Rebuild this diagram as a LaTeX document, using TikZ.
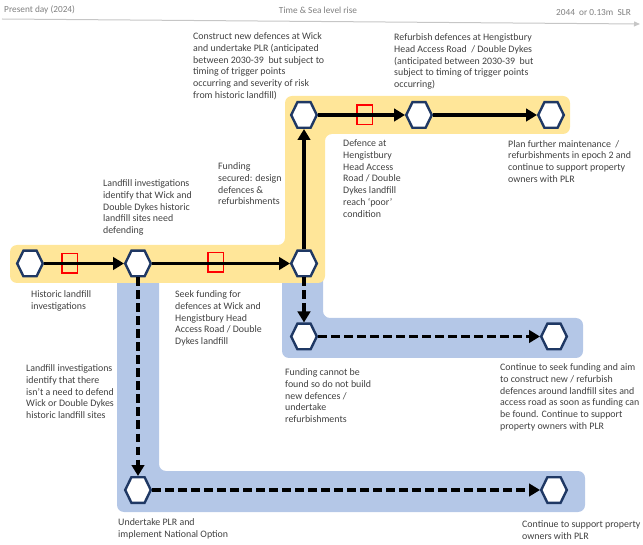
\documentclass[tikz,border=0pt]{standalone}
\usepackage{fontspec}
\setmainfont{Carlito}
\usetikzlibrary{arrows.meta}
\definecolor{bandyellow}{HTML}{FFE699}
\definecolor{bandblue}{HTML}{B4C7E7}
\definecolor{hexnavy}{HTML}{1F3864}
\definecolor{txtgray}{HTML}{404040}
\definecolor{tlgray}{HTML}{7F7F7F}
\begin{document}
\begin{tikzpicture}[x=1pt,y=-1pt,
  band/.style={rounded corners=7pt},
  hexnode/.style={minimum width=25.6pt, minimum height=25.6pt, inner sep=0pt, outer sep=1.2pt},
  hexline/.style={draw=hexnavy, line width=2.4pt, fill=white, line join=miter},
  flow/.style={line width=3.5pt, -{Triangle[length=11pt,width=12.5pt]}},
  flowdash/.style={flow, dash pattern=on 8.5pt off 4.5pt},
  redbox/.style={draw=red, line width=1.5pt, minimum width=15.5pt, minimum height=19.5pt, inner sep=0pt},
  lab/.style={anchor=north west, align=left, inner sep=0pt, text=txtgray, font=\fontsize{9.9}{11.8}\selectfont},
  tl/.style={inner sep=0pt, text=tlgray, font=\fontsize{9.3}{11}\selectfont}]
\useasboundingbox (0,0) rectangle (643,545);

% timeline
\coordinate (tl0) at (2,19);
\coordinate (tl1) at (640,24);
\draw[line width=1pt, draw=gray!45, -{Triangle[length=6pt,width=5pt]}] (tl0) -- (tl1);
\node[tl, anchor=west] (tlleft) at (4,10) {Present day (2024)};
\node[tl] (tlmid) at (318,10) {Time \& Sea level rise};
\node[tl, anchor=east] (tlright) at (631,13) {2044~ or 0.13m~ SLR};

% bands
\fill[bandblue] (117,276) -- (159,276) [band] -- (159,471) -- (585,471) -- (585,512) -- (117,512) -- cycle;
\fill[bandblue] (282,276) -- (323,276) [band] -- (323,318) -- (583,318) -- (583,358) -- (282,358) -- cycle;
\fill[bandyellow, band] (10,245) -- (285,245) -- (285,96) -- (570,96) -- (570,134) -- (325,134) -- (325,283) -- (10,283) -- cycle;

% hexagon nodes
\node[hexnode] (A) at (30,263.5) {};
\node[hexnode] (B) at (138,263.5) {};
\node[hexnode] (C) at (304,263.5) {};
\node[hexnode] (D) at (304,115) {};
\node[hexnode] (E) at (419,115) {};
\node[hexnode] (F) at (551,115) {};
\node[hexnode] (G) at (304,336.5) {};
\node[hexnode] (H) at (554,336.5) {};
\node[hexnode] (I) at (138,490) {};
\node[hexnode] (J) at (554,490) {};
\foreach \n in {A,B,C,D,E,F,G,H,I,J}
  \draw[hexline] ([xshift=-12.8pt]\n.center) -- ([xshift=-6.6pt,yshift=12.8pt]\n.center)
    -- ([xshift=6.6pt,yshift=12.8pt]\n.center) -- ([xshift=12.8pt]\n.center)
    -- ([xshift=6.6pt,yshift=-12.8pt]\n.center) -- ([xshift=-6.6pt,yshift=-12.8pt]\n.center) -- cycle;

% trigger boxes
\node[redbox] (r1) at (69.5,263.5) {};
\node[redbox] (r2) at (215.5,262.5) {};
\node[redbox] (r3) at (364.5,115) {};

% connectors
\draw[flow] (A) -- (B);
\draw[flow] (B) -- (C);
\draw[flow] (C) -- (D);
\draw[flow] (D) -- (E);
\draw[flow] (E) -- (F);
\draw[flowdash] (C) -- (G);
\draw[flowdash] (G) -- (H);
\draw[flowdash] (B) -- (I);
\draw[flowdash] (I) -- (J);

% labels
\node[lab] (t1) at (193,32.5) {Construct new defences at Wick\\and undertake PLR (anticipated\\between 2030-39~ but subject to\\timing of trigger points\\occurring and severity of risk\\from historic landfill)};
\node[lab] (t2) at (394,33.5) {Refurbish defences at Hengistbury\\Head Access Road~ / Double Dykes\\(anticipated between 2030-39~ but\\subject to timing of trigger points\\occurring)};
\node[lab] (t3) at (218,162.5) {Funding\\secured: design\\defences \&\\refurbishments};
\node[lab] (t4) at (103,179.5) {Landfill investigations\\identify that Wick and\\Double Dykes historic\\landfill sites need\\defending};
\node[lab] (t5) at (31,290.5) {Historic landfill\\investigations};
\node[lab] (t6) at (175,290.5) {Seek funding for\\defences at Wick and\\Hengistbury Head\\Access Road / Double\\Dykes landfill};
\node[lab] (t7) at (26,364.5) {Landfill investigations\\identify that there\\isn’t a need to defend\\Wick or Double Dykes\\historic landfill sites};
\node[lab] (t8) at (343,139.5) {Defence at\\Hengistbury\\Head Access\\Road / Double\\Dykes landfill\\reach ‘poor’\\condition};
\node[lab] (t9) at (508,140) {Plan further maintenance~ /\\refurbishments in epoch 2 and\\continue to support property\\owners with PLR};
\node[lab] (t10) at (285,368.5) {Funding cannot be\\found so do not build\\new defences /\\undertake\\refurbishments};
\node[lab] (t11) at (500,363.5) {Continue to seek funding and aim\\to construct new / refurbish\\defences around landfill sites and\\access road as soon as funding can\\be found. Continue to support\\property owners with PLR};
\node[lab] (t12) at (118,518.5) {Undertake PLR and\\implement National Option};
\node[lab] (t13) at (522,520.5) {Continue to support property\\owners with PLR};
\end{tikzpicture}
\end{document}
